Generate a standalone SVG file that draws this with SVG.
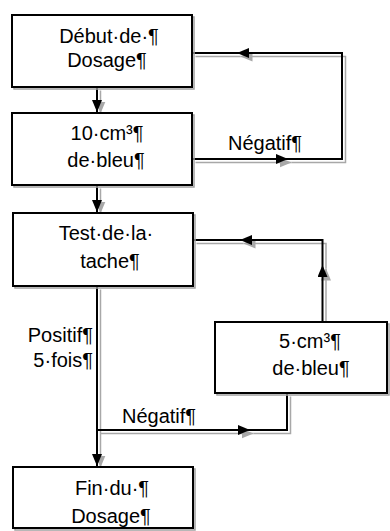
<svg xmlns="http://www.w3.org/2000/svg" width="390" height="531" viewBox="0 0 390 531">
<style>
.box{fill:#fff;stroke:#000;stroke-width:2}
.bsh{fill:none;stroke:#a0a0a0;stroke-width:1.5}
.ln{fill:none;stroke:#000;stroke-width:2}
.sh{fill:none;stroke:#a8a8a8;stroke-width:1.5}
.ar{marker-end:url(#ah)}
.ars{marker-end:url(#ahs)}
text{font-family:"Liberation Sans",Arial,sans-serif;font-size:20px;fill:#000;text-anchor:middle}
.lab{text-anchor:start}
.r{text-anchor:end}
</style>
<defs>
<marker id="ah" markerUnits="userSpaceOnUse" markerWidth="12" markerHeight="10" viewBox="0 0 12 10" refX="12" refY="5" orient="auto"><path d="M0,0 L12,5 L0,10 z" fill="#000"/></marker>
<marker id="ahs" markerUnits="userSpaceOnUse" markerWidth="12" markerHeight="10" viewBox="0 0 12 10" refX="12" refY="5" orient="auto"><path d="M0,0 L12,5 L0,10 z" fill="#a8a8a8"/></marker>
</defs>
<rect width="390" height="531" fill="#fff"/>
<g id="connectors">
<g transform="translate(3.5,3.5)">
<path class="sh ars" d="M97,87 V110"/>
<path class="sh ars" d="M97,185 V210"/>
<path class="sh ars" d="M192,159 H288"/>
<path class="sh ars" d="M288,159 H342 V53 H237"/>
<path class="sh" d="M237,53 H192"/>
<path class="sh ars" d="M97,286 V464"/>
<path class="sh ars" d="M97,430 H250"/>
<path class="sh" d="M250,430 H287 V393"/>
<path class="sh ars" d="M322.5,322 V265"/>
<path class="sh ars" d="M322.5,265 V240 H240"/>
<path class="sh" d="M240,240 H193"/>
</g>
<path class="ln ar" d="M97,87 V112"/>
<path class="ln ar" d="M97,185 V212"/>
<path class="ln ar" d="M192,159 H288"/>
<path class="ln ar" d="M288,159 H342 V53 H237"/>
<path class="ln" d="M237,53 H192"/>
<path class="ln ar" d="M97,286 V466"/>
<path class="ln ar" d="M97,430 H250"/>
<path class="ln" d="M250,430 H287 V393"/>
<path class="ln ar" d="M322.5,322 V265"/>
<path class="ln ar" d="M322.5,265 V240 H240"/>
<path class="ln" d="M240,240 H193"/>
<text class="lab" x="228" y="150">Négatif¶</text>
<text class="lab" x="122" y="423">Négatif¶</text>
<text class="r" x="93" y="342">Positif¶</text>
<text class="r" x="93" y="367">5·fois¶</text>
</g>
<g id="n1">
<rect class="bsh" x="14" y="17" width="180" height="72"/>
<rect class="box" x="12" y="15" width="180" height="72"/>
<text x="109" y="43">Début·de·¶</text>
<text x="107" y="67">Dosage¶</text>
</g>
<g id="n2">
<rect class="bsh" x="14" y="115" width="180" height="72"/>
<rect class="box" x="12" y="113" width="180" height="72"/>
<text x="107" y="140">10·cm³¶</text>
<text x="106" y="167">de·bleu¶</text>
</g>
<g id="n3">
<rect class="bsh" x="15" y="215" width="180" height="73"/>
<rect class="box" x="13" y="213" width="180" height="73"/>
<text x="106" y="240">Test·de·la·</text>
<text x="110" y="268">tache¶</text>
</g>
<g id="n4">
<rect class="bsh" x="217" y="324" width="172" height="71"/>
<rect class="box" x="215" y="322" width="172" height="71"/>
<text x="310" y="348">5·cm³¶</text>
<text x="311" y="375">de·bleu¶</text>
</g>
<g id="n5">
<rect class="bsh" x="15" y="469" width="180" height="61"/>
<rect class="box" x="13" y="467" width="180" height="61"/>
<text x="112" y="495">Fin·du·¶</text>
<text x="111" y="523">Dosage¶</text>
</g>
</svg>
